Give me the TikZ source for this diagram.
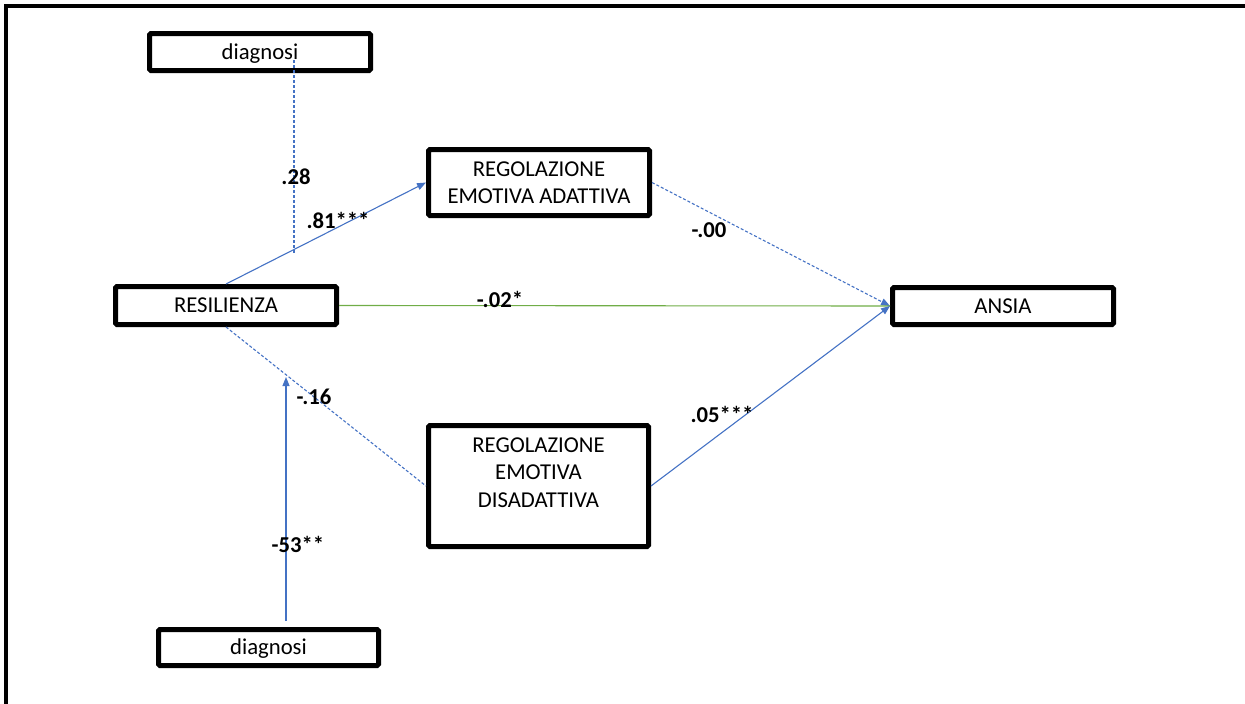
\documentclass[tikz,border=0pt]{standalone}
\usepackage{fontspec}
\setmainfont{Carlito}
\usetikzlibrary{arrows.meta}
\definecolor{offblue}{HTML}{4472C4}
\definecolor{offgreen}{HTML}{70AD47}
\tikzset{
  box/.style={draw=black, line width=5pt, rounded corners=1.5pt, inner sep=0pt, outer sep=2.5pt,
    fill=white, align=center, font=\fontsize{22.7}{27.5}\selectfont},
  onebox/.style={box, text height=14.6pt, text depth=0pt},
  lbl/.style={inner sep=0pt, anchor=base, font=\bfseries\fontsize{22.7}{27}\selectfont},
  conn/.style={line width=1.1pt, draw=offblue},
  dashconn/.style={conn, dash pattern=on 3pt off 2pt},
  tip/.style={-{Triangle[length=9pt,width=7pt]}},
}
\begin{document}
\begin{tikzpicture}[x=1pt,y=-1pt]
\useasboundingbox (0,0) rectangle (1245,704);
\draw[line width=4pt] (6,704) -- (6,6) -- (1245,6);

\node[onebox, minimum width=221pt, minimum height=37pt] (diagT) at (260,52) {diagnosi};
\node[box, minimum width=221pt, minimum height=66pt] (regA) at (539,182.5) {REGOLAZIONE\\EMOTIVA ADATTIVA};
\node[onebox, minimum width=221pt, minimum height=38pt] (res) at (226,305.5) {RESILIENZA};
\node[onebox, minimum width=221pt, minimum height=37pt] (ansia) at (1003,306) {ANSIA};
\node[box, minimum width=220pt, minimum height=121pt] (regD) at (538.5,486) {REGOLAZIONE\\EMOTIVA\\DISADATTIVA\\\mbox{}};
\node[onebox, minimum width=220pt, minimum height=36pt] (diagB) at (268.5,647.5) {diagnosi};

\coordinate (t1) at (294,60);
\coordinate (t2) at (294,253);
\coordinate (b1) at (286,621);
\coordinate (b2) at (286,377);

\draw[dashconn] (t1) -- (t2);
\draw[conn, tip] (res.north) -- (regA.west);
\draw[dashconn, tip] (regA.east) -- (ansia.west);
\draw[line width=1.1pt, draw=offgreen] (res.east) -- (ansia.west);
\draw[dashconn] (res.south) -- (regD.west);
\draw[conn, tip] (regD.east) -- (ansia.west);
\draw[conn, tip] (b1) -- (b2);

\node[lbl] (l28) at (296,184) {.28};
\node[lbl] (l81) at (338,228) {.81***};
\node[lbl] (l00) at (709,237) {-.00};
\node[lbl] (l02) at (500,307) {-.02*};
\node[lbl] (l16) at (314,404) {-.16};
\node[lbl] (l05) at (722,422) {.05***};
\node[lbl] (l53) at (298,552) {-53**};
\end{tikzpicture}
\end{document}
